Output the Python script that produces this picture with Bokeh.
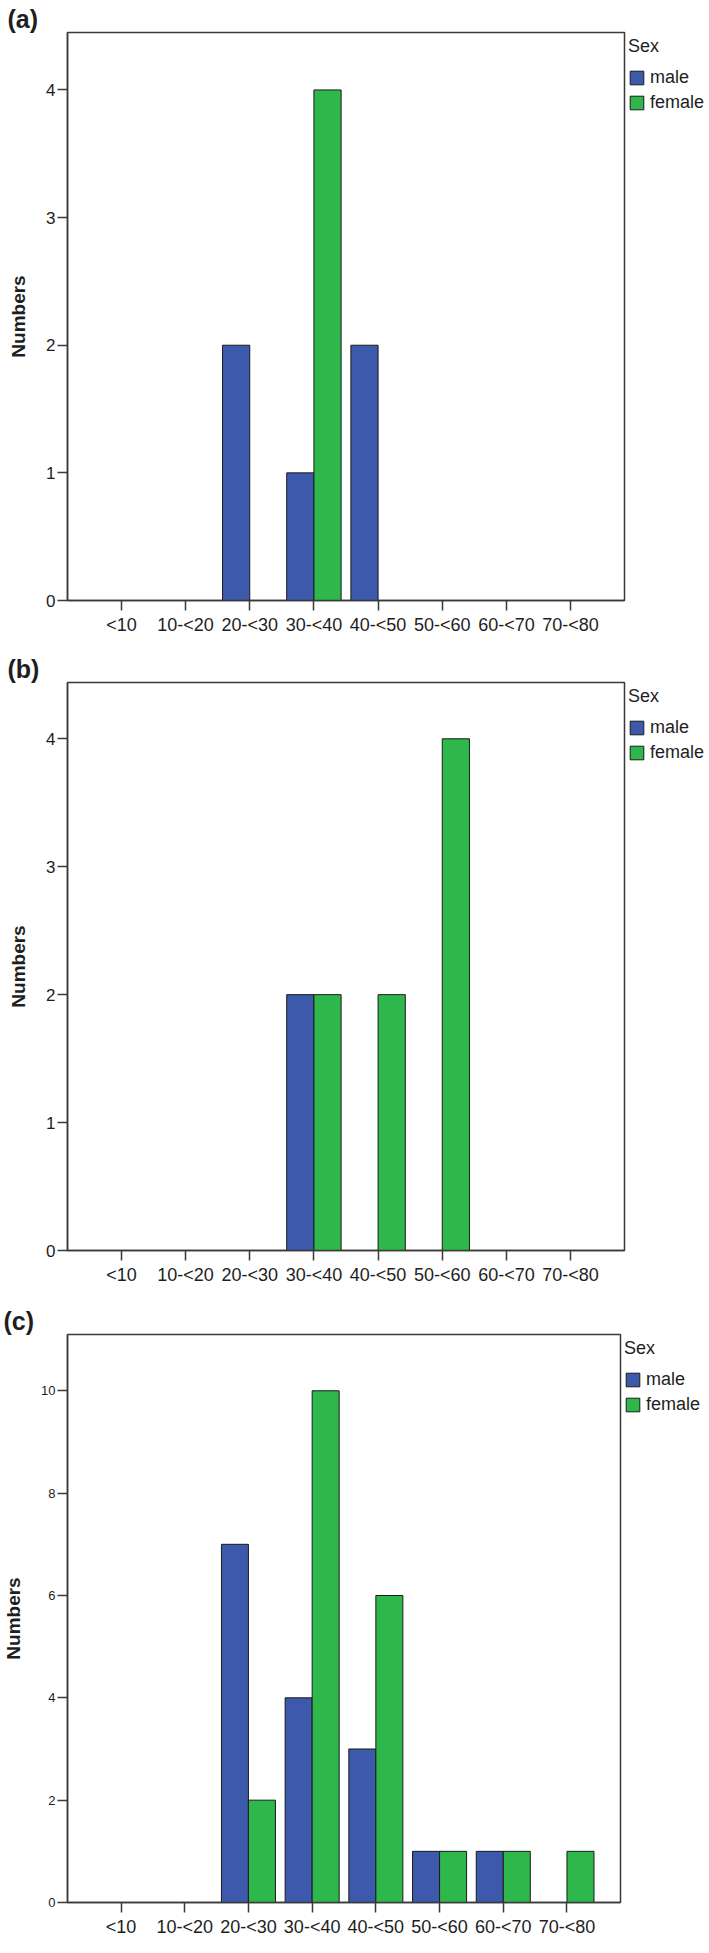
from bokeh.plotting import figure
from bokeh.models import (FactorRange, Range1d, FixedTicker, Legend, LegendItem,
                          ColumnDataSource)
from bokeh.transform import dodge
from bokeh.layouts import column
from bokeh.embed import file_html
from bokeh.resources import INLINE

# ---------------- data ----------------
categories = ["<10", "10-<20", "20-<30", "30-<40", "40-<50", "50-<60", "60-<70", "70-<80"]
series_names = ["male", "female"]

a_male = [0, 0, 2, 1, 2, 0, 0, 0]
a_female = [0, 0, 0, 4, 0, 0, 0, 0]
b_male = [0, 0, 0, 2, 0, 0, 0, 0]
b_female = [0, 0, 0, 2, 2, 4, 0, 0]
c_male = [0, 0, 7, 4, 3, 1, 1, 0]
c_female = [0, 0, 2, 10, 6, 1, 1, 1]

a_ticks = [0, 1, 2, 3, 4]
b_ticks = [0, 1, 2, 3, 4]
c_ticks = [0, 2, 4, 6, 8, 10]

panel_tags = ["(a)", "(b)", "(c)"]
y_title = "Numbers"
legend_title = "Sex"

# ---------------- style ----------------
MALE = "#3d59ab"
FEMALE = "#2eb84b"
AX = "#3a3a3a"
TXT = "#1e1e1e"
FONT = "Liberation Sans"
FW = 701
RIGHT = 84
FH = 568


def make_panel(tag, male, female, yticks, ymax, tick_fs, left, top, bottom):
    p = figure(
        x_range=FactorRange(factors=categories, range_padding=0.34,
                            range_padding_units="absolute"),
        y_range=Range1d(0, ymax),
        frame_width=FW - left - RIGHT, frame_height=FH,
        output_backend="svg", toolbar_location=None,
        min_border_left=left, min_border_right=RIGHT,
        min_border_top=top, min_border_bottom=bottom,
        background_fill_color="white", border_fill_color="white",
        title=tag,
    )
    p.title.text_font = FONT
    p.title.text_font_size = "25px"
    p.title.text_font_style = "bold"
    p.title.text_color = TXT
    p.title.align = "left"
    p.title.offset = -left
    p.title.standoff = 0

    p.xgrid.visible = False
    p.ygrid.visible = False
    p.outline_line_color = AX
    p.outline_line_width = 1.5

    sm = ColumnDataSource(dict(cat=[c for c, v in zip(categories, male) if v > 0],
                               val=[v for v in male if v > 0]))
    sf = ColumnDataSource(dict(cat=[c for c, v in zip(categories, female) if v > 0],
                               val=[v for v in female if v > 0]))
    rm = p.vbar(x=dodge("cat", -0.212, range=p.x_range), top="val", width=0.424,
                source=sm, fill_color=MALE, line_color="#1a1a1a", line_width=1)
    rf = p.vbar(x=dodge("cat", 0.212, range=p.x_range), top="val", width=0.424,
                source=sf, fill_color=FEMALE, line_color="#1a1a1a", line_width=1)

    # axes
    for ax in (p.xaxis[0], p.yaxis[0]):
        ax.axis_line_color = AX
        ax.axis_line_width = 1.5
        ax.major_tick_line_color = AX
        ax.major_tick_line_width = 1.5
        ax.major_tick_in = 0
        ax.minor_tick_line_color = None
        ax.major_label_text_font = FONT
        ax.major_label_text_color = TXT
    p.xaxis.major_tick_out = 10
    p.xaxis.major_label_standoff = 4
    p.xaxis.major_label_text_font_size = "18px"
    p.yaxis.ticker = FixedTicker(ticks=yticks)
    p.yaxis.major_tick_out = 10
    p.yaxis.major_label_standoff = 2
    p.yaxis.major_label_text_font_size = tick_fs
    p.yaxis.axis_label = y_title
    p.yaxis.axis_label_text_font = FONT
    p.yaxis.axis_label_text_font_style = "bold"
    p.yaxis.axis_label_text_font_size = "19px"
    p.yaxis.axis_label_text_color = TXT
    p.yaxis.axis_label_standoff = 14

    # legend
    legend = Legend(items=[LegendItem(label=series_names[0], renderers=[rm]),
                           LegendItem(label=series_names[1], renderers=[rf])],
                    title=legend_title, title_text_font=FONT,
                    title_text_font_size="18px", title_text_font_style="normal",
                    title_text_color=TXT, title_standoff=10,
                    location="top_left", margin=4, padding=0,
                    spacing=4, glyph_width=17, glyph_height=17, label_height=17,
                    label_standoff=5, label_text_font=FONT,
                    label_text_font_size="18px", label_text_color=TXT,
                    border_line_color=None, background_fill_alpha=0)
    p.add_layout(legend, "right")
    return p


pa = make_panel(panel_tags[0], a_male, a_female, a_ticks, 4.45, "17px", 60, 32, 48)
pb = make_panel(panel_tags[1], b_male, b_female, b_ticks, 4.44, "17px", 60, 34, 48)
pc = make_panel(panel_tags[2], c_male, c_female, c_ticks, 11.1, "13px", 64, 36, 35)

layout = column(pa, pb, pc, spacing=0)
open("out.html", "w").write(file_html(layout, INLINE))
